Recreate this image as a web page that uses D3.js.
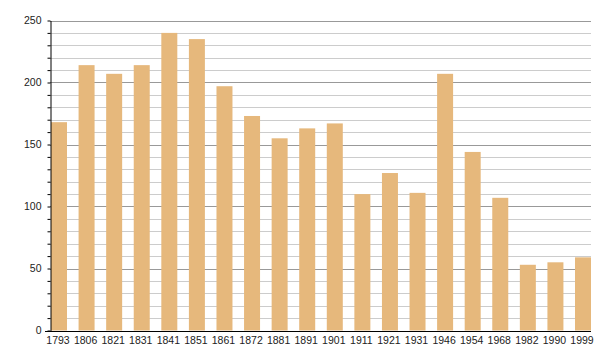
<!DOCTYPE html>
<html>
<head>
<meta charset="utf-8">
<script src="https://cdn.jsdelivr.net/npm/d3@7"></script>
<style>
  body { margin: 0; background: #fff; }
  text { font-family: "Liberation Sans", Arial, sans-serif; font-size: 10.5px; fill: #222; }
</style>
</head>
<body>
<script>
var width = 600;
var height = 360;

// data
var years = ['1793', '1806', '1821', '1831', '1841', '1851', '1861', '1872', '1881', '1891',
             '1901', '1911', '1921', '1931', '1946', '1954', '1968', '1982', '1990', '1999'];
var population = [168, 214, 207, 214, 240, 235, 197, 173, 155, 163,
                  167, 110, 127, 111, 207, 144, 107, 53, 55, 59];
var yTicks = [0, 50, 100, 150, 200, 250];

var svg = d3.select('body')
    .append('svg')
    .attr('width', width)
    .attr('height', height);

var plotLeft = 50, plotRight = 591, plotTop = 20.5, plotBottom = 330.5;

var x = d3.scaleBand()
        .domain(years)
        .range([plotLeft + 1, plotRight])
        .paddingInner(0.42)
        .paddingOuter(0),
    y = d3.scaleLinear()
        .domain([0, 250])
        .range([plotBottom, plotTop]);

// gridlines, minor every 10 and major every 50
svg.append('g').selectAll('line')
    .data(d3.range(10, 251, 10))
    .enter()
    .append('line')
    .attr('x1', plotLeft)
    .attr('x2', plotRight)
    .attr('y1', function(d) { return Math.round(y(d)) + 0.5; })
    .attr('y2', function(d) { return Math.round(y(d)) + 0.5; })
    .attr('stroke', function(d) { return yTicks.indexOf(d) >= 0 ? '#999' : '#ccc'; })
    .attr('stroke-width', 1);

// bars
svg.selectAll('rect.bar')
    .data(population)
    .enter()
    .append('rect')
    .attr('class', 'bar')
    .attr('x', function(d, i) { return x(years[i]); })
    .attr('y', function(d) { return y(d); })
    .attr('width', x.bandwidth())
    .attr('height', function(d) { return plotBottom - y(d); })
    .attr('fill', '#e6b87c');

// y axis with minor ticks every 10
var yAxis = svg.append('g')
    .attr('transform', 'translate(' + (plotLeft + 0.5) + ',0)')
    .call(d3.axisLeft(y).tickValues(d3.range(0, 251, 10)).tickSize(3).tickSizeOuter(0)
        .tickFormat(function(d) { return yTicks.indexOf(d) >= 0 ? d : ''; }));
yAxis.select('.domain').attr('stroke', '#000');
yAxis.selectAll('.tick line').attr('stroke', '#000');
yAxis.selectAll('.tick text')
    .attr('x', -9)
    .style('font-size', '10.5px')
    .style('font-family', '"Liberation Sans", Arial, sans-serif')
    .attr('fill', '#222');

// baseline
svg.append('line')
    .attr('x1', plotLeft - 5)
    .attr('x2', plotRight)
    .attr('y1', Math.round(plotBottom) + 0.5)
    .attr('y2', Math.round(plotBottom) + 0.5)
    .attr('stroke', '#000');

// x labels
svg.selectAll('text.xlab')
    .data(years)
    .enter()
    .append('text')
    .attr('class', 'xlab')
    .attr('x', function(d) { return x(d) + x.bandwidth() / 2 - 1; })
    .attr('y', plotBottom + 13)
    .attr('text-anchor', 'middle')
    .text(function(d) { return d; });
</script>
</body>
</html>
